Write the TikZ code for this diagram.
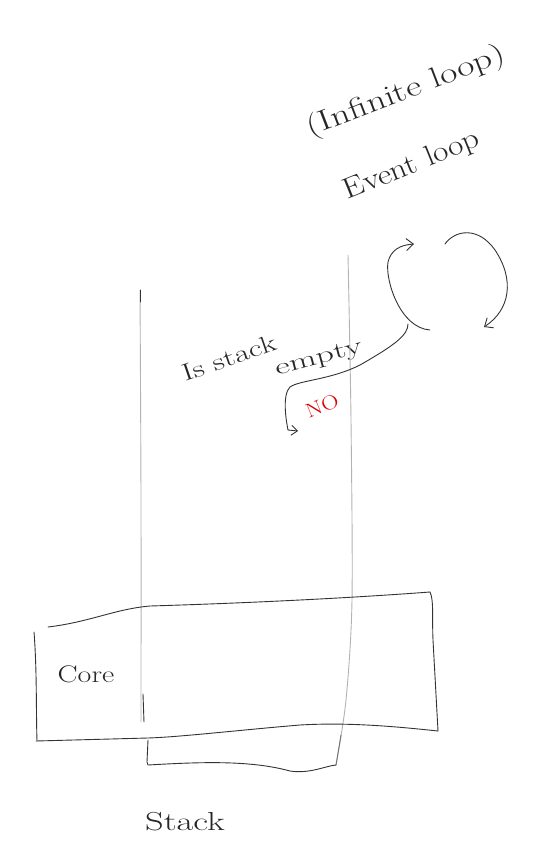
\documentclass[tikz,border=0pt]{standalone}
\usetikzlibrary{arrows.meta}
\begin{document}
\begin{tikzpicture}[x=1pt,y=-1pt,
  ink/.style={draw=black!80, line width=0.9pt, line cap=round, line join=round},
  pale/.style={draw=black!30, line width=0.9pt, line cap=round},
  hand/.style={text=black!85, inner sep=0pt},
  loopar/.style={ink, -{Straight Barb[length=7pt,width=12pt]}}]
\useasboundingbox (0,0) rectangle (536,867);
% texts
\node[hand, rotate=21, xscale=1.3, font=\fontsize{29}{29}\selectfont] (inf) at (406,92) {(Infinite loop)};
\node[hand, rotate=22, xscale=1.15, font=\fontsize{29}{29}\selectfont] (ev) at (412,166) {Event loop};
\node[hand, rotate=19, xscale=1.35, font=\fontsize{24}{24}\selectfont] (isst) at (229,358) {Is stack};
\node[hand, rotate=15, xscale=1.55, font=\fontsize{23}{23}\selectfont] (emp) at (319,359) {empty};
\node[hand, text=red!85!black, rotate=22, xscale=1.2, font=\fontsize{20}{20}\selectfont] (no) at (322,406) {NO};
\node[hand, xscale=1.25, font=\fontsize{24}{24}\selectfont] (core) at (86,674) {Core};
\node[hand, xscale=1.4, font=\fontsize{26}{26}\selectfont] (stk) at (185,822) {Stack};
% stack column
\draw[pale] plot[smooth] coordinates {(140,290) (141,500) (141,722)};
\draw[ink] (140,290) -- (140,302);
\draw[ink] (143,694) -- (144,722);
\draw[pale] plot[smooth] coordinates {(348,255) (351,420) (352,600) (346,700) (336,765)};
\draw[ink, draw=black!55] (341,735) -- (336,765);
\draw[ink] (148,740) -- (147,762) -- (148,765) .. controls (200,762) and (250,760) .. (290,771) .. controls (310,774) and (325,766) .. (336,765);
% core box
\draw[ink] (48,627) .. controls (90,622) and (115,609) .. (150,606) .. controls (250,603) and (350,598) .. (430,592);
\draw[ink] (430,592) .. controls (434,600) and (432,620) .. (433,640) -- (438,731);
\draw[ink] (438,731) .. controls (400,727) and (350,722) .. (300,725) .. controls (240,730) and (180,737) .. (148,738) -- (36,741);
\draw[ink] (34,632) .. controls (37,670) and (36,710) .. (37,741);
% loop arrows
\coordinate (la) at (430,330);
\coordinate (lt) at (414,244);
\coordinate (ra) at (445,244);
\coordinate (rt) at (484,327);
\coordinate (ns) at (408,324);
\coordinate (nt) at (298,431);
\draw[loopar] (la) .. controls (400,328) and (385,280) .. (388,262) .. controls (391,250) and (400,245) .. (lt);
\draw[loopar] (ra) .. controls (455,230) and (478,226) .. (495,250) .. controls (515,280) and (510,310) .. (rt);
\draw[ink, -{Straight Barb[length=6pt,width=10pt]}] (ns) .. controls (408,335) and (395,345) .. (360,365) .. controls (330,380) and (300,380) .. (290,387) .. controls (282,395) and (286,420) .. (288,430) -- (nt);
\end{tikzpicture}
\end{document}
